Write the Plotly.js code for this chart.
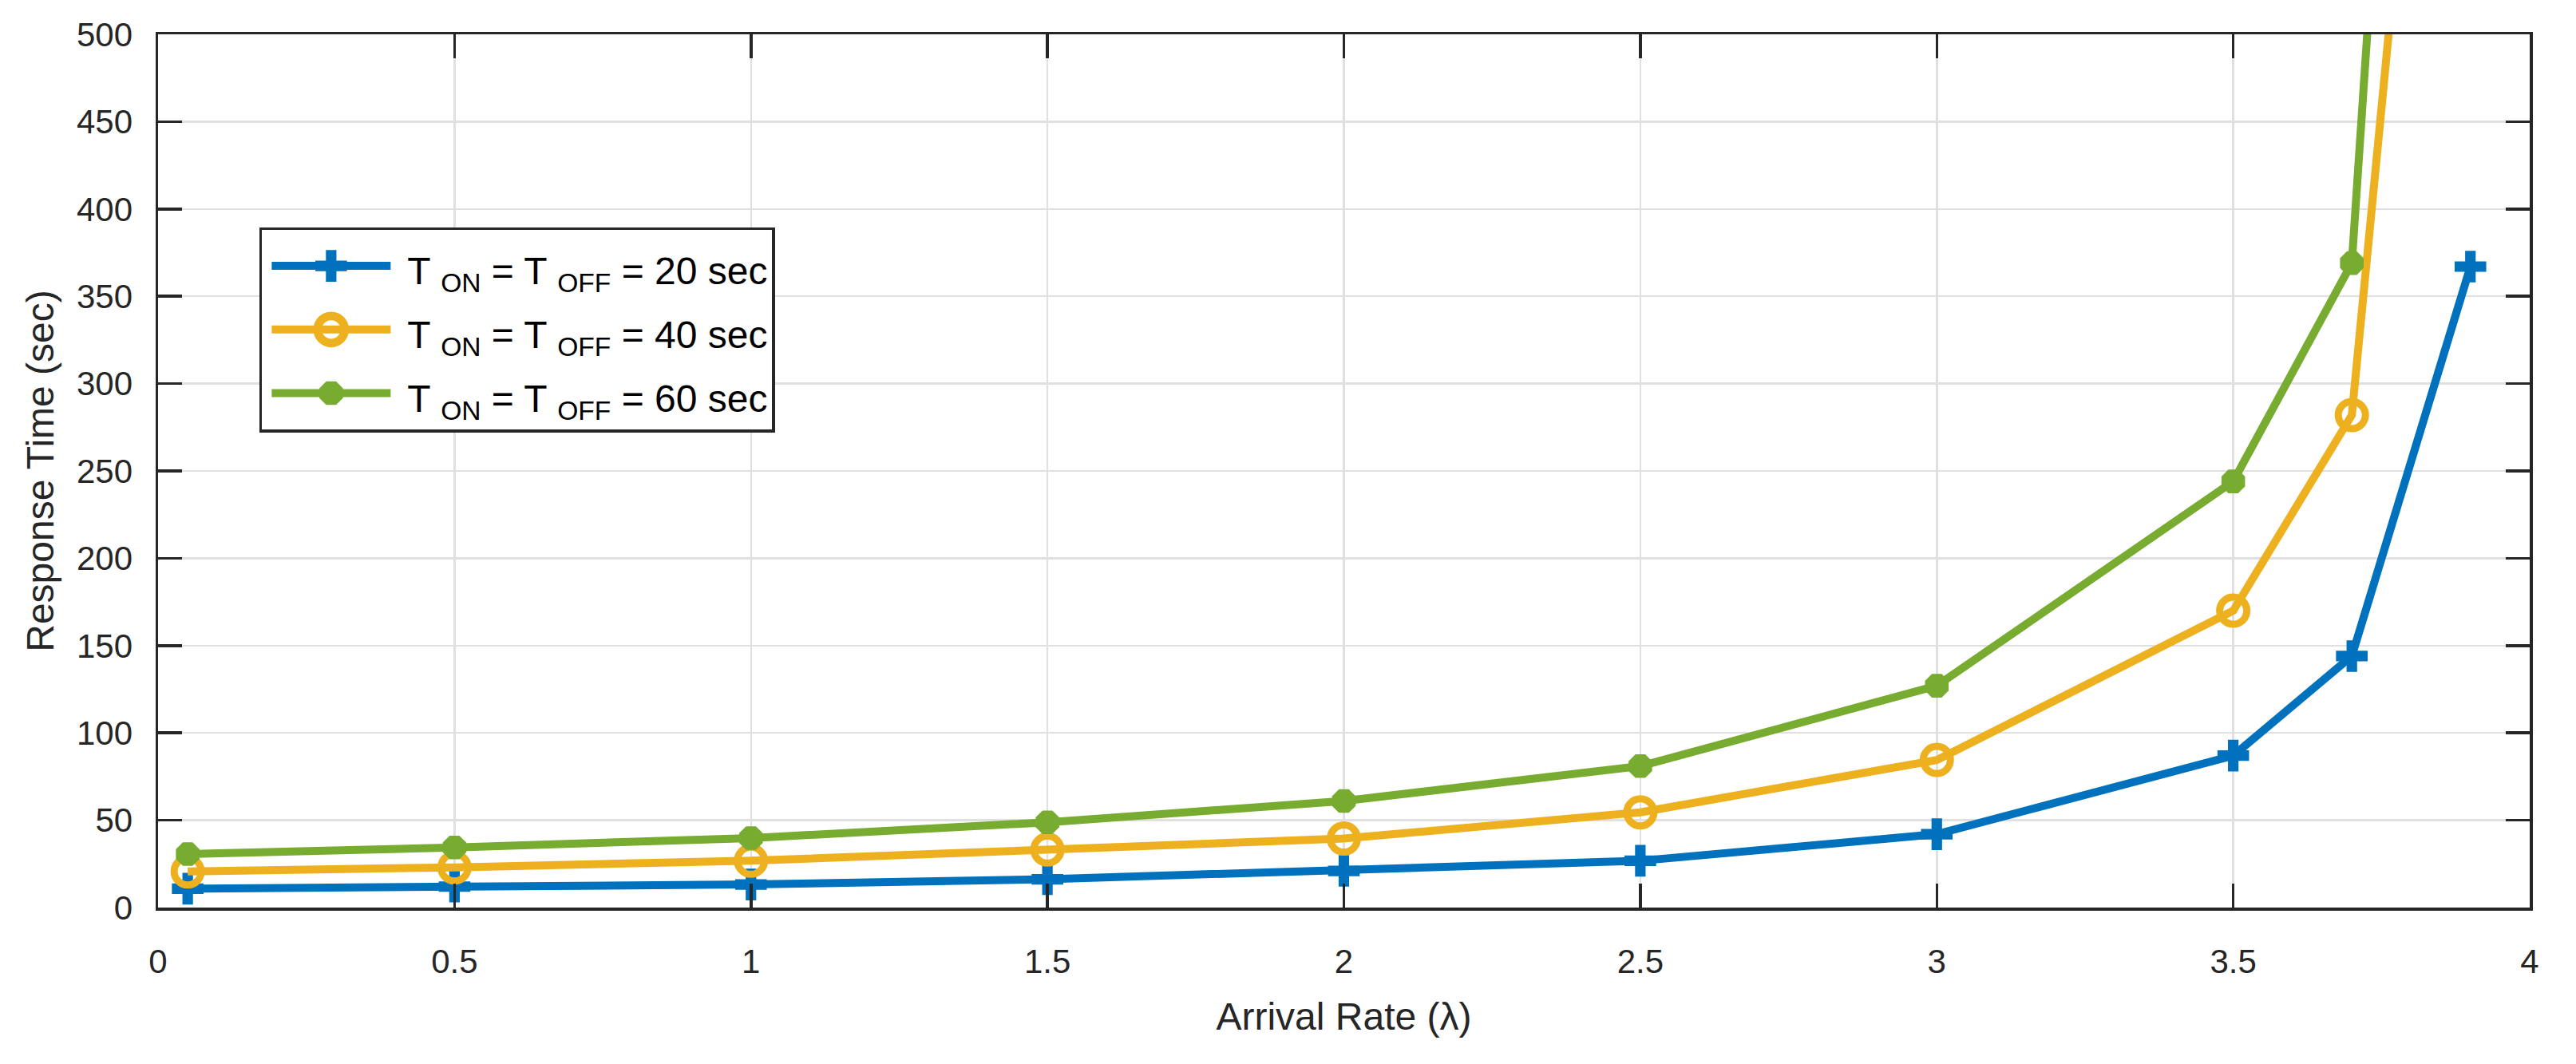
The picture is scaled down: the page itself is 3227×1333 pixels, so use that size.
<!DOCTYPE html>
<html>
<head>
<meta charset="utf-8">
<script src="https://cdn.plot.ly/plotly-3.0.1.min.js"></script>
<style>html,body{margin:0;padding:0;background:#fff;}#chart{width:3227px;height:1333px;}</style>
</head>
<body>
<div id="chart"></div>
<script>
// Arrival rate (lambda)
const arrivalRate = [0.05, 0.5, 1, 1.5, 2, 2.5, 3, 3.5, 3.7, 3.9];
// Response time (sec) for each T_ON = T_OFF setting
const resp20 = [10.8, 12, 13.2, 16.2, 21, 26.8, 42, 87, 144, 367];
const resp40 = [20.7, 23, 26.8, 33.2, 39.5, 54.5, 84.5, 170, 282, 985];
const resp60 = [30.6, 34.4, 39.8, 48.8, 61, 81, 127, 244, 369, 1380];
const seriesNames = [
  "T <sub>ON</sub> = T <sub>OFF</sub> = 20 sec",
  "T <sub>ON</sub> = T <sub>OFF</sub> = 40 sec",
  "T <sub>ON</sub> = T <sub>OFF</sub> = 60 sec"
];
const xTickVals = [0, 0.5, 1, 1.5, 2, 2.5, 3, 3.5, 4];
const yTickVals = [0, 50, 100, 150, 200, 250, 300, 350, 400, 450, 500];

const FONT = "Liberation Sans, Arial, Helvetica, sans-serif";
const INK = "#262626";
const markerSizes = [33, 34, 32];

const legendText = n => '<span style="font-size:48px">' + n + '</span>';

const traces = [
  {x: arrivalRate, y: resp20, name: legendText(seriesNames[0]), mode: "lines+markers",
   line: {color: "#0072BD", width: 10},
   marker: {symbol: "cross", size: markerSizes[0], color: "#0072BD"}},
  {x: arrivalRate, y: resp40, name: legendText(seriesNames[1]), mode: "lines+markers",
   line: {color: "#EDB120", width: 10},
   marker: {symbol: "circle-open", size: markerSizes[1], color: "#EDB120", line: {color: "#EDB120", width: 9}}},
  {x: arrivalRate, y: resp60, name: legendText(seriesNames[2]), mode: "lines+markers",
   line: {color: "#77AC30", width: 10},
   marker: {symbol: "octagon", size: markerSizes[2], color: "#77AC30"}}
];

const axisCommon = {
  showline: true, linecolor: INK, linewidth: 3.5, mirror: "allticks",
  ticks: "inside", ticklen: 30, tickwidth: 3.5, tickcolor: INK,
  showgrid: true, gridcolor: "#E0E0E0", gridwidth: 2.5,
  zeroline: false, tickfont: {family: FONT, size: 42, color: INK},
  automargin: false
};

const layout = {
  width: 3227, height: 1333,
  margin: {l: 198, r: 58, t: 43, b: 196},
  paper_bgcolor: "#fff", plot_bgcolor: "#fff",
  showlegend: true,
  xaxis: Object.assign({}, axisCommon, {
    range: [0, 4], tickmode: "array", tickvals: xTickVals,
    ticklabelstandoff: 28,
    title: {text: "Arrival Rate (λ)", font: {family: FONT, size: 48, color: INK}, standoff: 30}
  }),
  yaxis: Object.assign({}, axisCommon, {
    range: [0, 500], tickmode: "array", tickvals: yTickVals,
    ticklabelstandoff: 20,
    title: {text: "Response Time (sec)", font: {family: FONT, size: 48, color: INK}, standoff: 14}
  }),
  legend: {
    x: 0.0427, y: 0.779, xanchor: "left", yanchor: "top",
    bgcolor: "#fff", bordercolor: INK, borderwidth: 3.5,
    font: {family: FONT, size: 59, color: "#000"},
    itemwidth: 172, tracegroupgap: 0
  }
};

Plotly.newPlot("chart", traces, layout, {displayModeBar: false, staticPlot: true}).then(gd => {
  // enlarge legend samples to match the plotted line / marker sizes
  const items = gd.querySelectorAll(".legend .traces");
  items.forEach((it, i) => {
    const s = markerSizes[i] / 16;
    const txt = it.querySelector("text.legendtext");
    const tx = txt ? parseFloat(txt.getAttribute("x")) : NaN;
    const lineEnd = isNaN(tx) ? null : tx - 21;
    const cx = lineEnd === null ? null : lineEnd - 74.5;
    it.querySelectorAll(".legendpoints path.scatterpts").forEach(p => {
      const t = p.getAttribute("transform") || "";
      const nt = cx === null ? t : t.replace(/translate\(\s*[-\d.]+/, "translate(" + cx);
      p.setAttribute("transform", nt + " scale(" + s + ")");
    });
    it.querySelectorAll(".legendlines path").forEach(p => {
      p.style.strokeWidth = "10px";
      if (lineEnd !== null) p.setAttribute("d", "M" + (lineEnd - 149) + ",0h149");
    });
  });
});
</script>
</body>
</html>
